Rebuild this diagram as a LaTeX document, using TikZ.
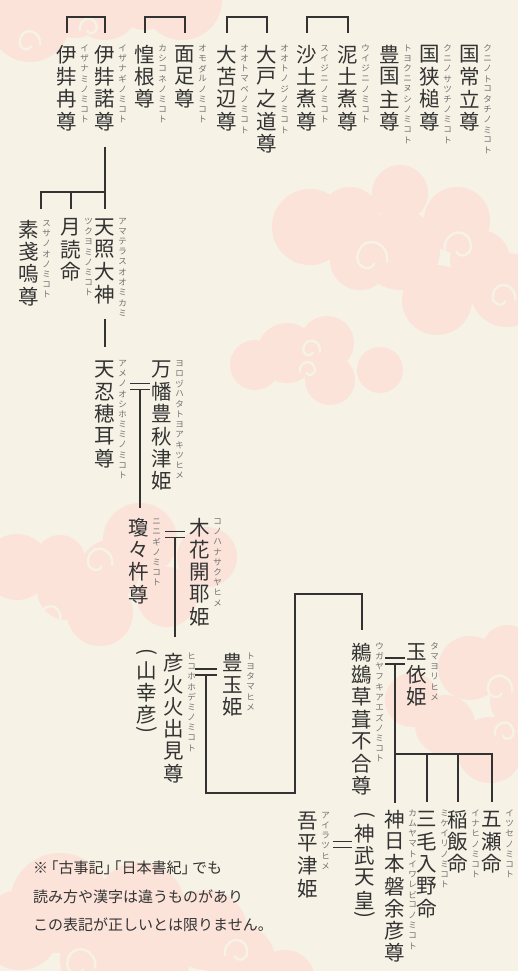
\documentclass[tikz,border=0pt]{standalone}
\usepackage{graphicx}
\usepackage{fontspec}
\newfontfamily\jpfont{Noto Sans CJK JP}
\usetikzlibrary{positioning,calc}

\definecolor{paper}{HTML}{F6F2E5}
\definecolor{kumo}{HTML}{FBE3DA}
\definecolor{sumi}{HTML}{333333}
\definecolor{usuzumi}{HTML}{707070}

% vertical writing: one slot per character
\makeatletter
\newcommand\tatestack[2]{\vbox{\offinterlineskip
  \@tfor\tate@c:=#2\do{\vbox to #1{\vss\hbox to #1{\hss\tate@c\hss}\vss}}}}
\makeatother
\newcommand\tate[1]{\tatestack{22.3pt}{#1}}
\newcommand\yomi[1]{\tatestack{10.2pt}{#1}}
\newcommand\kakko[1]{\vbox to 11pt{\vss\hbox to 22.3pt{\hss\rotatebox[origin=c]{-90}{#1}\hss}\vss}}
\newcommand\tatekakko[1]{\vbox{\offinterlineskip\kakko{(}\tate{#1}\kakko{)}}}
% marriage mark (double bar)
\newcommand\meoto[2]{\draw[keizu] (#1) ++(-#2,-3) -- ++(2*#2,0) ++(-2*#2,6) -- ++(2*#2,0);}

\tikzset{
  uzu/.pic={\draw[uzumaki] (0,0) .. controls (2,-12) and (-14,-18) .. (-18,-6)
    .. controls (-21,3) and (-11,7) .. (-8,1);}
}

\begin{document}
\begin{tikzpicture}[x=1pt, y=-1pt,
    kami/.style={inner sep=0pt, anchor=north, text=sumi, font=\jpfont\fontsize{20.5}{20.5}\selectfont},
    yomi/.style={inner sep=0pt, anchor=north west, text=usuzumi, font=\jpfont\fontsize{8.5}{8.5}\selectfont},
    keizu/.style={draw=sumi, line width=1.8pt},
    uzumaki/.style={draw=paper, line width=2.4pt, line cap=round},
    chuu/.style={inner sep=0pt, anchor=north west, align=left, text=sumi, font=\jpfont\fontsize{15}{28.5}\selectfont}]
  \useasboundingbox (0,0) rectangle (518,971);
  \clip (0,0) rectangle (518,971);
  \fill[paper] (0,0) rectangle (518,971);

  % clouds
  \fill[kumo] (30,22) circle[radius=40pt] (75,8) circle[radius=30pt] (105,5) circle[radius=35pt]
    (145,0) circle[radius=30pt] (182,0) circle[radius=40pt];
  \fill[kumo] (310,227) circle[radius=38pt] (350,217) circle[radius=30pt] (400,193) circle[radius=28pt]
    (457,220) circle[radius=33pt] (437,300) circle[radius=35pt] (360,260) circle[radius=30pt]
    (507,290) circle[radius=37pt] (400,250) circle[radius=40pt] (480,260) circle[radius=30pt];
  \fill[kumo] (327,343) circle[radius=27pt] (287,353) circle[radius=30pt] (380,370) circle[radius=23pt]
    (255,365) circle[radius=25pt] (330,380) circle[radius=25pt];
  \fill[kumo] (140,540) circle[radius=37pt] (207,557) circle[radius=30pt] (100,613) circle[radius=33pt]
    (17,567) circle[radius=33pt] (67,590) circle[radius=30pt] (167,597) circle[radius=30pt]
    (60,560) circle[radius=25pt] (110,570) circle[radius=30pt];
  \fill[kumo] (470,668) circle[radius=32pt] (412,700) circle[radius=27pt] (507,650) circle[radius=25pt]
    (445,725) circle[radius=30pt] (490,750) circle[radius=33pt] (520,700) circle[radius=30pt];
  \fill[kumo] (60,903) circle[radius=50pt] (140,907) circle[radius=45pt] (207,930) circle[radius=40pt]
    (240,960) circle[radius=35pt] (20,930) circle[radius=40pt] (100,960) circle[radius=40pt]
    (160,960) circle[radius=30pt] (285,980) circle[radius=30pt];
  \pic[scale=1.1] at (40,45) {uzu};
  \pic[scale=0.9, xscale=-1] at (80,30) {uzu};
  \pic[scale=1.6] at (387,262) {uzu};
  \pic[scale=1.4, xscale=-1] at (445,250) {uzu};
  \pic[scale=1.2] at (515,300) {uzu};
  \pic[scale=0.9] at (320,352) {uzu};
  \pic[scale=0.8, xscale=-1] at (300,372) {uzu};
  \pic[scale=1.3] at (112,565) {uzu};
  \pic[scale=1.1, xscale=-1] at (40,620) {uzu};
  \pic[scale=1.3] at (512,692) {uzu};
  \pic[scale=1.0, xscale=-1] at (495,735) {uzu};
  \pic[scale=1.5] at (95,968) {uzu};
  \pic[scale=1.2, xscale=-1] at (225,955) {uzu};

  % first generations
  \node[kami] (kuninotokotachi) at (470,43) {\tate{国常立尊}};
  \node[right=1pt of kuninotokotachi.north east, yomi] (kuninotokotachi-y) {\yomi{クニノトコタチノミコト}};
  \node[kami] (kuninosatsuchi) at (430,43) {\tate{国狭槌尊}};
  \node[right=1pt of kuninosatsuchi.north east, yomi] (kuninosatsuchi-y) {\yomi{クニノサツチノミコト}};
  \node[kami] (toyokumunu) at (390,43) {\tate{豊国主尊}};
  \node[right=1pt of toyokumunu.north east, yomi] (toyokumunu-y) {\yomi{トヨクニヌシノミコト}};
  \node[kami] (uhijini) at (348,43) {\tate{泥土煮尊}};
  \node[right=1pt of uhijini.north east, yomi] (uhijini-y) {\yomi{ウイジニノミコト}};
  \node[kami] (suhijini) at (307,43) {\tate{沙土煮尊}};
  \node[right=1pt of suhijini.north east, yomi] (suhijini-y) {\yomi{スイジニノミコト}};
  \node[kami] (otonoji) at (267,43) {\tate{大戸之道尊}};
  \node[right=1pt of otonoji.north east, yomi] (otonoji-y) {\yomi{オオトノジノミコト}};
  \node[kami] (otomabe) at (227,43) {\tate{大苫辺尊}};
  \node[right=1pt of otomabe.north east, yomi] (otomabe-y) {\yomi{オオトマベノミコト}};
  \node[kami] (omodaru) at (185,43) {\tate{面足尊}};
  \node[right=1pt of omodaru.north east, yomi] (omodaru-y) {\yomi{オモダルノミコト}};
  \node[kami] (kashikone) at (145,43) {\tate{惶根尊}};
  \node[right=1pt of kashikone.north east, yomi] (kashikone-y) {\yomi{カシコネノミコト}};
  \node[kami] (izanagi) at (105,43) {\tate{伊弉諾尊}};
  \node[right=1pt of izanagi.north east, yomi] (izanagi-y) {\yomi{イザナギノミコト}};
  \node[kami] (izanami) at (67,43) {\tate{伊弉冉尊}};
  \node[right=1pt of izanami.north east, yomi] (izanami-y) {\yomi{イザナミノミコト}};

  \draw[keizu] ([yshift=10pt]suhijini.north) -- ++(0,-16) -| ([yshift=10pt]uhijini.north);
  \draw[keizu] ([yshift=10pt]otomabe.north) -- ++(0,-16) -| ([yshift=10pt]otonoji.north);
  \draw[keizu] ([yshift=10pt]kashikone.north) -- ++(0,-16) -| ([yshift=10pt]omodaru.north);
  \draw[keizu] ([yshift=10pt]izanami.north) -- ++(0,-16) -| ([yshift=10pt]izanagi.north);

  % children of Izanagi
  \node[kami] (amaterasu) at (105,216) {\tate{天照大神}};
  \node[right=1pt of amaterasu.north east, yomi] (amaterasu-y) {\yomi{アマテラスオオミカミ}};
  \node[kami] (tsukuyomi) at (71,216) {\tate{月読命}};
  \node[right=1pt of tsukuyomi.north east, yomi] (tsukuyomi-y) {\yomi{ツクヨミノミコト}};
  \node[kami] (susanoo) at (29,218) {\tate{素戔嗚尊}};
  \node[right=1pt of susanoo.north east, yomi] (susanoo-y) {\yomi{スサノオノミコト}};

  \draw[keizu] ([yshift=-14pt]izanagi.south) -- ([yshift=7pt]amaterasu.north);
  \draw[keizu] ([xshift=12pt,yshift=9pt]susanoo.north) |- ([yshift=24pt]amaterasu.north);
  \draw[keizu] ([yshift=7pt]tsukuyomi.north) -- ++(0,-17);

  \node[kami] (oshihomimi) at (105,358) {\tate{天忍穂耳尊}};
  \node[right=1pt of oshihomimi.north east, yomi] (oshihomimi-y) {\yomi{アメノオシホミミノミコト}};
  \node[kami] (yorozuhata) at (162,358) {\tate{万幡豊秋津姫}};
  \node[right=1pt of yorozuhata.north east, yomi] (yorozuhata-y) {\yomi{ヨロヅハタトヨアキツヒメ}};
  \draw[keizu] ([yshift=-13pt]amaterasu.south) -- ([yshift=11pt]oshihomimi.north);

  \node[kami] (ninigi) at (139,516) {\tate{瓊々杵尊}};
  \node[right=1pt of ninigi.north east, yomi] (ninigi-y) {\yomi{ニニギノミコト}};
  \node[kami] (konohana) at (200,516) {\tate{木花開耶姫}};
  \node[right=1pt of konohana.north east, yomi] (konohana-y) {\yomi{コノハナサクヤヒメ}};

  \coordinate (m1) at (140,386.5);
  \meoto{m1}{10}
  \draw[keizu] ([yshift=-3pt]m1) -- ($(m1 |- ninigi.north)+(0,-8)$);

  \node[kami] (hikohohodemi) at (174,651) {\tate{彦火火出見尊}};
  \node[right=1pt of hikohohodemi.north east, yomi] (hikohohodemi-y) {\yomi{ヒコホホデミノミコト}};
  \node[kami] (yamasachi) at (147,648) {\tatekakko{山幸彦}};
  \node[kami] (toyotama) at (233,651) {\tate{豊玉姫}};
  \node[right=1pt of toyotama.north east, yomi] (toyotama-y) {\yomi{トヨタマヒメ}};

  \coordinate (m2) at (175,534.5);
  \meoto{m2}{10}
  \draw[keizu] ([yshift=-3pt]m2) -- ($(m2 |- hikohohodemi.north)+(0,-14)$);

  \node[kami] (ugaya) at (362,641) {\tate{鵜鷀草葺不合尊}};
  \node[right=1pt of ugaya.north east, yomi] (ugaya-y) {\yomi{ウガヤフキアエズノミコト}};
  \node[kami] (tamayori) at (417,641) {\tate{玉依姫}};
  \node[right=1pt of tamayori.north east, yomi] (tamayori-y) {\yomi{タマヨリヒメ}};

  \coordinate (m3) at (206,672);
  \meoto{m3}{11}
  \draw[keizu] ([yshift=-3pt]m3) -- ++(0,118) -| ++(89,-199) -| ($(ugaya.north)+(0,-11)$);

  % last generation
  \node[kami] (jimmu) at (395,808) {\tate{神日本磐余彦尊}};
  \node[right=1pt of jimmu.north east, yomi] (jimmu-y) {\yomi{カムヤマトイワレビコノミコト}};
  \node[kami] (jimmutenno) at (365,811) {\tatekakko{神武天皇}};
  \node[kami] (mikeirino) at (427,808) {\tate{三毛入野命}};
  \node[right=1pt of mikeirino.north east, yomi] (mikeirino-y) {\yomi{ミケイリノミコト}};
  \node[kami] (inahi) at (458,808) {\tate{稲飯命}};
  \node[right=1pt of inahi.north east, yomi] (inahi-y) {\yomi{イナヒノミコト}};
  \node[kami] (itsuse) at (492,808) {\tate{五瀬命}};
  \node[right=1pt of itsuse.north east, yomi] (itsuse-y) {\yomi{イツセノミコト}};
  \node[kami] (ahiratsu) at (308,810) {\tate{吾平津姫}};
  \node[right=1pt of ahiratsu.north east, yomi] (ahiratsu-y) {\yomi{アイラツヒメ}};

  \coordinate (m4) at (395,661);
  \meoto{m4}{10}
  \draw[keizu] ([yshift=-3pt]m4) -- ($(m4 |- jimmu.north)+(0,-5)$);
  \coordinate (kyoudai) at ($(m4)+(0,93)$);
  \draw[keizu] (kyoudai) -| ($(itsuse.north)+(0,-6)$);
  \foreach \ko in {mikeirino, inahi}
    \draw[keizu] (kyoudai -| \ko.north) -- ($(\ko.north)+(0,-6)$);

  \coordinate (m5) at (342.5,844.5);
  \meoto{m5}{9.5}

  \node[chuu] (chuuki) at (33,861) {※\kern-.3em「古事記」\kern-.8em「日本書紀」\kern-.3emでも\\読み方や漢字は違うものがあり\\この表記が正しいとは限りません。};
\end{tikzpicture}
\end{document}
